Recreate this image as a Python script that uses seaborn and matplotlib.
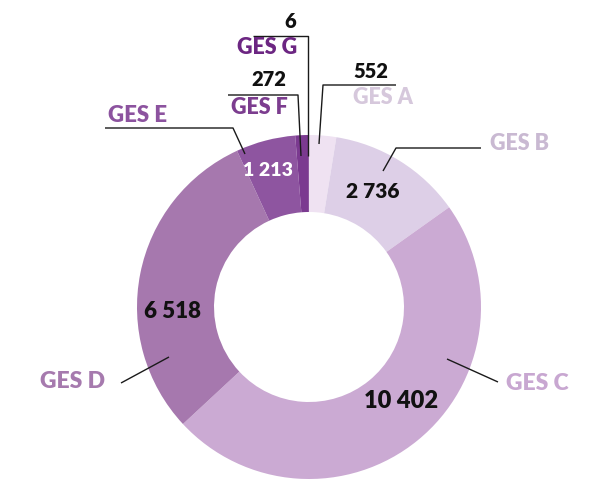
import matplotlib
matplotlib.use("Agg")
import matplotlib.pyplot as plt
import seaborn as sns

categories = ["GES A", "GES B", "GES C", "GES D", "GES E", "GES F", "GES G"]
values = [552, 2736, 10402, 6518, 1213, 272, 6]
value_labels = ["552", "2 736", "10 402", "6 518", "1 213", "272", "6"]
slice_colors = ["#efe2f2", "#ddcfe7", "#cbaad3", "#a678ae", "#8e55a0", "#7b3a90", "#6a2280"]
label_colors = ["#d6c8dc", "#c9b9d2", "#c8a7d1", "#a67aae", "#8c539f", "#7c3d8f", "#6c2682"]

sns.set_theme(style="white")
plt.rcParams['font.family'] = ['Lato', 'DejaVu Sans']

W, H = 602, 480
fig = plt.figure(figsize=(W / 100, H / 100), dpi=100)
ax = fig.add_axes([0, 0, 1, 1])

def Y(y):
    return H - y

cx, cy, R = 309, 307, 172
ax.pie(values, colors=slice_colors, startangle=90, counterclock=False,
       center=(cx, Y(cy)), radius=R, wedgeprops=dict(width=77, linewidth=0))
ax.set_xlim(0, W)
ax.set_ylim(0, H)
ax.set_aspect('equal')
ax.axis('off')

# leader lines (pixel coordinates, top-left origin)
leaders = {
    "GES A": [(319, 144), (323, 85), (396, 85)],
    "GES B": [(383, 171), (396, 148), (481, 148)],
    "GES C": [(447, 359), (498, 382)],
    "GES D": [(169, 357), (121, 383)],
    "GES E": [(245, 154), (233, 128), (105, 128)],
    "GES F": [(301, 156), (298, 95), (228, 95)],
    "GES G": [(308, 156), (308, 36), (253, 36)],
}
for name, pts in leaders.items():
    xs = [p[0] for p in pts]
    ys = [Y(p[1]) for p in pts]
    ax.plot(xs, ys, color="#1a1a1a", lw=1.0, solid_capstyle="butt")

# category names
name_pos = {
    "GES A": (383, 97), "GES B": (520, 143), "GES C": (537, 383),
    "GES D": (73, 381), "GES E": (138, 115), "GES F": (259, 107), "GES G": (267, 47),
}
name_size = {"GES A": 15.5, "GES B": 15.5, "GES C": 16.5, "GES D": 16.5, "GES E": 16,
             "GES F": 15.5, "GES G": 15.5}
for i, name in enumerate(categories):
    x, y = name_pos[name]
    ax.text(x, Y(y), name, color=label_colors[i], fontsize=name_size[name],
            fontweight=800, ha="center", va="center")

# values
val_pos = [(371, 72), (373, 192), (401, 401), (173, 312), (268, 170), (269, 80), (290, 22)]
val_size = [14.5, 15, 17, 16, 14, 14.5, 14.5]
val_color = ["#111111", "#111111", "#111111", "#111111", "white", "#111111", "#111111"]
for i, lab in enumerate(value_labels):
    x, y = val_pos[i]
    ax.text(x, Y(y), lab, color=val_color[i], fontsize=val_size[i],
            fontweight=800, ha="center", va="center")

fig.savefig("out.png", dpi=100)
